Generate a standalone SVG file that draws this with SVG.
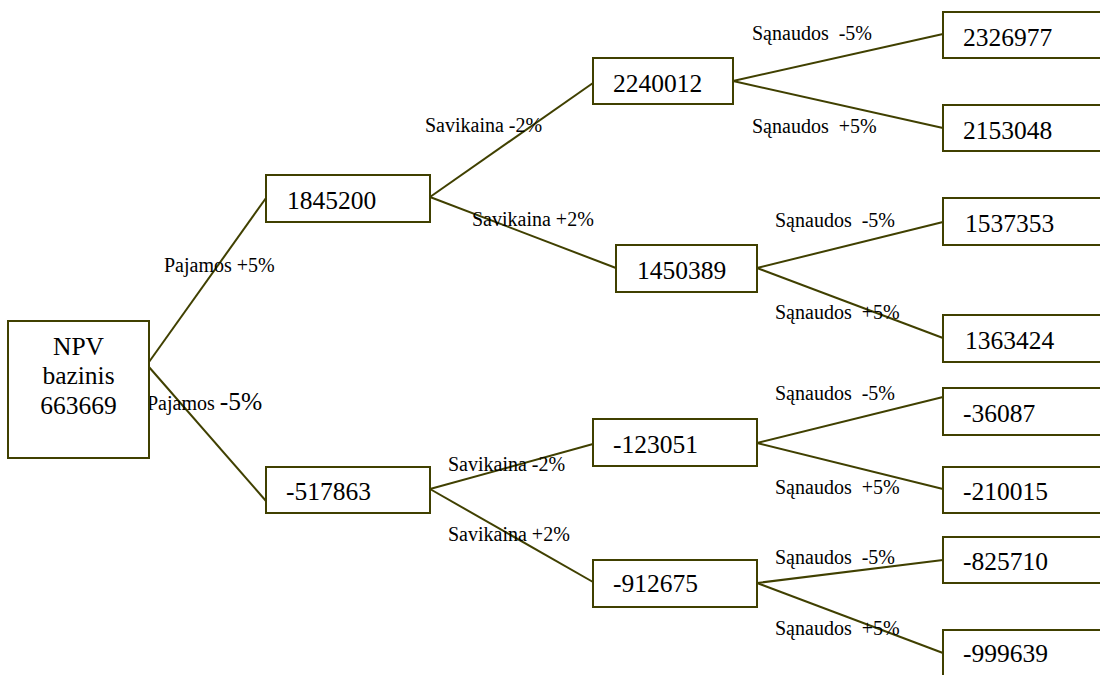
<svg xmlns="http://www.w3.org/2000/svg" width="1100" height="675" viewBox="0 0 1100 675">
<style>
.box{fill:#fff;stroke:#404000;stroke-width:2}
.ln{stroke:#404000;stroke-width:2;fill:none}
.num{font-family:"Liberation Serif","Times New Roman",serif;font-size:25.5px;fill:#000}
.lbl{font-family:"Liberation Serif","Times New Roman",serif;font-size:20px;fill:#000;white-space:pre}
</style>
<rect width="1100" height="675" fill="#fff"/>
<g id="connectors">
<line class="ln" x1="149" y1="362" x2="266" y2="198"/>
<line class="ln" x1="149" y1="367" x2="266" y2="501"/>
<line class="ln" x1="430" y1="197" x2="593" y2="83"/>
<line class="ln" x1="430" y1="197" x2="616" y2="268"/>
<line class="ln" x1="733" y1="81" x2="943" y2="34"/>
<line class="ln" x1="733" y1="81" x2="943" y2="128"/>
<line class="ln" x1="757" y1="268" x2="943" y2="222"/>
<line class="ln" x1="757" y1="268" x2="943" y2="338"/>
<line class="ln" x1="430" y1="489" x2="593" y2="444"/>
<line class="ln" x1="430" y1="489" x2="593" y2="582"/>
<line class="ln" x1="757" y1="443" x2="943" y2="397"/>
<line class="ln" x1="757" y1="443" x2="943" y2="489"/>
<line class="ln" x1="757" y1="583" x2="943" y2="560"/>
<line class="ln" x1="757" y1="583" x2="943" y2="653"/>
</g>
<g id="labels">
<text class="lbl" x="164" y="272">Pajamos +5%</text>
<text class="lbl" x="147" y="410">Pajamos <tspan font-size="25.5">-5%</tspan></text>
<text class="lbl" x="425" y="132">Savikaina -2%</text>
<text class="lbl" x="472" y="226">Savikaina +2%</text>
<text class="lbl" x="448" y="471">Savikaina -2%</text>
<text class="lbl" x="448" y="541">Savikaina +2%</text>
<text class="lbl" x="752" y="40">Sąnaudos  -5%</text>
<text class="lbl" x="752" y="133">Sąnaudos  +5%</text>
<text class="lbl" x="775" y="227">Sąnaudos  -5%</text>
<text class="lbl" x="775" y="319">Sąnaudos  +5%</text>
<text class="lbl" x="775" y="400">Sąnaudos  -5%</text>
<text class="lbl" x="775" y="494">Sąnaudos  +5%</text>
<text class="lbl" x="775" y="564">Sąnaudos  -5%</text>
<text class="lbl" x="775" y="635">Sąnaudos  +5%</text>
</g>
<g id="n-root">
<rect class="box" x="8" y="321" width="141" height="137"/>
<text class="num" x="78.5" y="355" text-anchor="middle">NPV</text>
<text class="num" x="78.5" y="384" text-anchor="middle">bazinis</text>
<text class="num" x="78.5" y="414" text-anchor="middle">663669</text>
</g>
<g id="n-1845200"><rect class="box" x="266" y="175" width="164" height="47"/><text class="num" x="287" y="209">1845200</text></g>
<g id="n-517863"><rect class="box" x="266" y="467" width="164" height="46"/><text class="num" x="286" y="500">-517863</text></g>
<g id="n-2240012"><rect class="box" x="593" y="58" width="140" height="46"/><text class="num" x="613" y="92">2240012</text></g>
<g id="n-1450389"><rect class="box" x="616" y="245" width="141" height="47"/><text class="num" x="637" y="279">1450389</text></g>
<g id="n-123051"><rect class="box" x="593" y="419" width="164" height="47"/><text class="num" x="613" y="453">-123051</text></g>
<g id="n-912675"><rect class="box" x="593" y="560" width="164" height="47"/><text class="num" x="613" y="592">-912675</text></g>
<g id="n-2326977"><rect class="box" x="943" y="12" width="170" height="46"/><text class="num" x="963" y="46">2326977</text></g>
<g id="n-2153048"><rect class="box" x="943" y="105" width="170" height="46"/><text class="num" x="963" y="139">2153048</text></g>
<g id="n-1537353"><rect class="box" x="943" y="198" width="170" height="47"/><text class="num" x="965" y="232">1537353</text></g>
<g id="n-1363424"><rect class="box" x="943" y="315" width="170" height="47"/><text class="num" x="965" y="349">1363424</text></g>
<g id="n-36087"><rect class="box" x="943" y="388" width="170" height="47"/><text class="num" x="963" y="422">-36087</text></g>
<g id="n-210015"><rect class="box" x="943" y="467" width="170" height="46"/><text class="num" x="963" y="500">-210015</text></g>
<g id="n-825710"><rect class="box" x="943" y="537" width="170" height="46"/><text class="num" x="963" y="570">-825710</text></g>
<g id="n-999639"><rect class="box" x="943" y="630" width="170" height="60"/><text class="num" x="963" y="662">-999639</text></g>
</svg>
